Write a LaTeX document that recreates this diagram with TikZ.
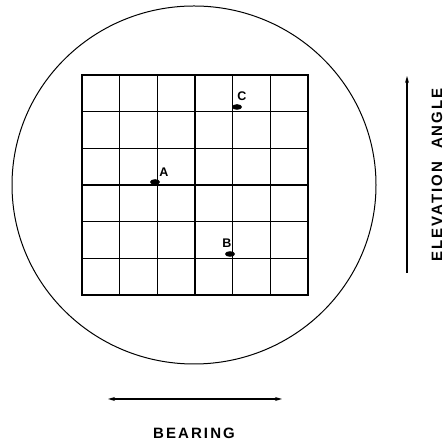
\documentclass[tikz,border=0pt]{standalone}
\usepackage{fontspec}
\setsansfont{Liberation Sans}
\usetikzlibrary{arrows.meta,positioning}

\begin{document}
\begin{tikzpicture}[x=1pt,y=1pt,>={Stealth[length=7pt,width=4pt]},
  lbl/.style={font=\sffamily\bfseries\fontsize{15}{15}\selectfont\addfontfeature{LetterSpace=14}},
  tag/.style={font=\sffamily\bfseries\fontsize{12.5}{12.5}\selectfont,inner sep=0pt},
  gridline/.style={line width=1.2pt}]
\useasboundingbox (0,0) rectangle (444,443);
% scope face
\draw[line width=1pt] (194,258) ellipse (182 and 179);
% reticle
\draw[gridline] (82,148) rectangle (308,368);
\foreach \i in {1,...,5} {
  \draw[gridline] (82+\i*37.67,148) -- ++(0,220);
  \draw[gridline] (82,148+\i*36.67) -- ++(226,0);
}
% targets
\fill (155,261) ellipse (5 and 2.8);
\node[tag] (tA) at (164,271) {A};
\fill (230,189) ellipse (5 and 2.8);
\node[tag] (tB) at (227,200) {B};
\fill (237,336) ellipse (5 and 2.8);
\node[tag] (tC) at (242,347) {C};
% axes
\coordinate (elevlo) at (407,170);
\coordinate (elevhi) at (407,367);
\draw[->,line width=1.4pt] (elevlo) -- (elevhi);
\node[lbl,rotate=90] (elev) at (437,268) {ELEVATION\ \ ANGLE};
\coordinate (bearl) at (108,44);
\coordinate (bearr) at (282,44);
\draw[<->,line width=1.4pt] (bearl) -- (bearr);
\node[lbl] (bear) at (194,10) {BEARING};
\end{tikzpicture}
\end{document}
